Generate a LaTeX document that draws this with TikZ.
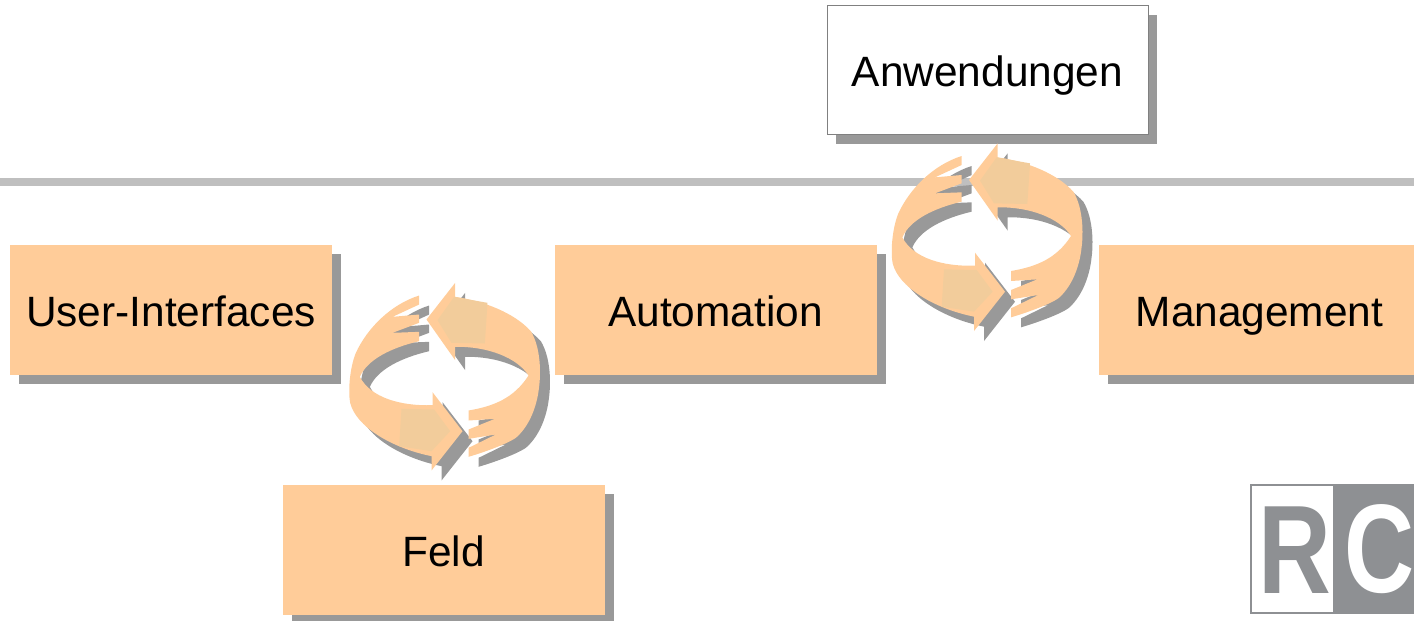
\documentclass[tikz,border=0pt]{standalone}
\usepackage{fontspec}
\setmainfont{Liberation Sans}
\usetikzlibrary{shadows}
\definecolor{boxorange}{HTML}{FFCC99}
\definecolor{innerorange}{HTML}{F2CC9B}
\definecolor{shadowgray}{HTML}{999999}
\definecolor{rulegray}{HTML}{BFBFBF}
\definecolor{logogray}{HTML}{8E9093}
\tikzset{
  boxbase/.style={rectangle,inner sep=0pt,minimum width=161pt,minimum height=65pt,text height=16.5pt,text depth=0pt,font=\fontsize{21.2}{25}\selectfont,
    drop shadow={shadow xshift=4.5pt,shadow yshift=-4.5pt,fill=shadowgray,opacity=1}},
  orangebox/.style={boxbase,fill=boxorange},
  whitebox/.style={boxbase,fill=white,draw=gray,line width=0.5pt,minimum width=160.5pt,minimum height=64.5pt},
  logoletter/.style={inner sep=0pt,font=\fontsize{63}{63}\selectfont}
}
\newcommand{\upperpath}{(297,150) -- (383,40) -- (383,82) .. controls (470,95) and (560,130) .. (610,185) .. controls (640,235) and (640,310) .. (635,350) .. controls (628,420) and (600,475) .. (565,505) .. controls (540,522) and (480,545) .. (423,562) -- (423,535) -- (505,495) -- (423,508) -- (423,480) -- (502,448) -- (423,453) -- (423,423) .. controls (500,410) and (560,385) .. (603,318) .. controls (570,265) and (480,230) .. (383,232) -- (383,272) -- cycle}
\newcommand{\lowerpath}{(405,485) -- (315,368) -- (315,407) .. controls (220,410) and (130,385) .. (97,322) .. controls (120,270) and (190,235) .. (275,215) -- (275,187) -- (195,190) -- (275,160) -- (275,135) -- (195,142) -- (275,105) -- (275,78) .. controls (190,105) and (120,175) .. (85,250) .. controls (65,300) and (62,370) .. (68,400) .. controls (85,470) and (190,535) .. (312,560) -- (312,603) -- cycle}
\newcommand{\cyclepair}[2]{%
  \begin{scope}[shift={(#1,#2)},x=0.166667pt,y=-0.166667pt]
    \fill[shadowgray,shift={(30,30)}] \upperpath;
    \fill[shadowgray,shift={(30,30)}] \lowerpath;
    \fill[boxorange] \upperpath;
    \fill[boxorange] \lowerpath;
    \fill[innerorange] (330,152) -- (380,82) -- (480,100) -- (472,222) -- (372,220) -- cycle;
    \fill[innerorange] (222,418) -- (320,420) -- (368,485) -- (312,545) -- (215,530) -- cycle;
  \end{scope}}
\begin{document}
\begin{tikzpicture}[x=0.5pt,y=-0.5pt]
  \useasboundingbox (0,0) rectangle (1414,621);
  \clip (0,0) rectangle (1414,621);
  \fill[rulegray] (0,178) rectangle (1414,186);
  \node[whitebox] (anw) at (987.5,70) {Anwendungen};
  \cyclepair{870}{130}
  \cyclepair{327.5}{269.5}
  \node[orangebox] (ui) at (171,310) {User-Interfaces};
  \node[orangebox] (auto) at (715.5,310) {Automation};
  \node[orangebox] (mgmt) at (1259.5,310) {Management};
  \node[orangebox] (feld) at (443.5,550) {Feld};
  % logo
  \fill[logogray] (1250,484) rectangle (1414,614);
  \fill[white] (1252,486) rectangle (1333,612);
  \node[logoletter,text=logogray,anchor=base west,xscale=0.8] (logoR) at (1258,593) {\bfseries R};
  \node[logoletter,text=white,anchor=base west,xscale=0.77] (logoC) at (1344,592) {\bfseries C};
\end{tikzpicture}
\end{document}
